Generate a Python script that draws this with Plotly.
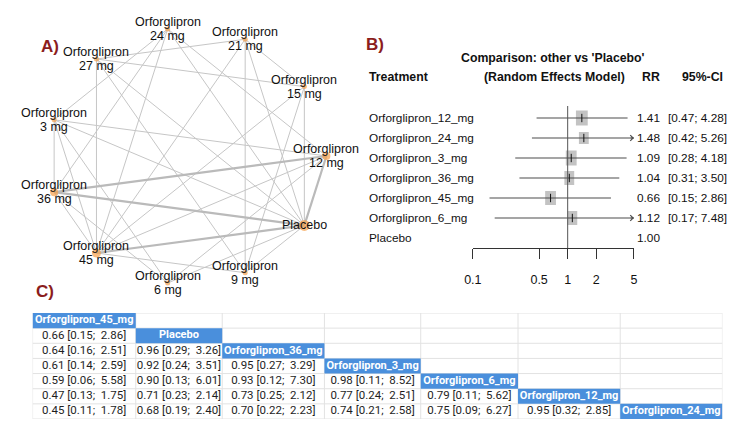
import numpy as np
import plotly.graph_objects as go

W, H = 750, 432

# ---------------- data ----------------
# A) network
net_nodes = ["Orforglipron 12 mg", "Orforglipron 15 mg", "Orforglipron 21 mg", "Orforglipron 24 mg",
             "Orforglipron 27 mg", "Orforglipron 3 mg", "Orforglipron 36 mg", "Orforglipron 45 mg",
             "Orforglipron 6 mg", "Orforglipron 9 mg", "Placebo"]
net_node_weight = [8, 5, 5, 5, 5, 5, 8, 9, 5, 5, 11]
net_edge_from = ["Orforglipron 27 mg", "Orforglipron 27 mg", "Orforglipron 27 mg", "Orforglipron 27 mg",
                 "Orforglipron 27 mg", "Orforglipron 21 mg", "Orforglipron 21 mg", "Orforglipron 21 mg",
                 "Orforglipron 21 mg", "Orforglipron 15 mg", "Orforglipron 15 mg", "Orforglipron 15 mg",
                 "Orforglipron 9 mg", "Orforglipron 9 mg", "Orforglipron 45 mg",
                 "Orforglipron 3 mg", "Orforglipron 3 mg", "Orforglipron 3 mg", "Orforglipron 3 mg",
                 "Orforglipron 3 mg", "Orforglipron 12 mg", "Orforglipron 12 mg", "Orforglipron 12 mg",
                 "Orforglipron 12 mg", "Orforglipron 24 mg", "Orforglipron 24 mg", "Orforglipron 24 mg",
                 "Orforglipron 36 mg", "Orforglipron 36 mg",
                 "Orforglipron 6 mg", "Orforglipron 6 mg", "Orforglipron 6 mg", "Orforglipron 6 mg"]
net_edge_to = ["Orforglipron 21 mg", "Orforglipron 15 mg", "Orforglipron 9 mg", "Orforglipron 45 mg",
               "Placebo", "Orforglipron 15 mg", "Orforglipron 9 mg", "Orforglipron 45 mg",
               "Placebo", "Orforglipron 9 mg", "Orforglipron 45 mg", "Placebo",
               "Orforglipron 45 mg", "Placebo", "Placebo",
               "Orforglipron 12 mg", "Orforglipron 24 mg", "Orforglipron 36 mg", "Orforglipron 45 mg",
               "Placebo", "Orforglipron 24 mg", "Orforglipron 36 mg", "Orforglipron 45 mg",
               "Placebo", "Orforglipron 36 mg", "Orforglipron 45 mg", "Placebo",
               "Orforglipron 45 mg", "Placebo",
               "Orforglipron 36 mg", "Orforglipron 12 mg", "Placebo", "Orforglipron 3 mg"]
net_edge_studies = [1, 1, 1, 1, 1, 1, 1, 1, 1, 1, 1, 1, 1, 1, 2,
                    1, 1, 1, 1, 1, 1, 2, 1, 2, 1, 1, 1, 1, 2,
                    1, 1, 1, 1]

# B) forest plot
forest_trt = ["Orforglipron_12_mg", "Orforglipron_24_mg", "Orforglipron_3_mg", "Orforglipron_36_mg",
              "Orforglipron_45_mg", "Orforglipron_6_mg", "Placebo"]
forest_rr = [1.41, 1.48, 1.09, 1.04, 0.66, 1.12, 1.00]
forest_lo = [0.47, 0.42, 0.28, 0.31, 0.15, 0.17, None]
forest_hi = [4.28, 5.26, 4.18, 3.50, 2.86, 7.48, None]
forest_ticks = [0.1, 0.5, 1, 2, 5]
forest_ticklabels = ["0.1", "0.5", "1", "2", "5"]

# C) league table
league_trt = ["Orforglipron_45_mg", "Placebo", "Orforglipron_36_mg", "Orforglipron_3_mg",
              "Orforglipron_6_mg", "Orforglipron_12_mg", "Orforglipron_24_mg"]
league_est = [[], [0.66], [0.64, 0.96], [0.61, 0.92, 0.95], [0.59, 0.90, 0.93, 0.98],
              [0.47, 0.71, 0.73, 0.77, 0.79], [0.45, 0.68, 0.70, 0.74, 0.75, 0.95]]
league_lo = [[], [0.15], [0.16, 0.29], [0.14, 0.24, 0.27], [0.06, 0.13, 0.12, 0.11],
             [0.13, 0.23, 0.25, 0.24, 0.11], [0.11, 0.19, 0.22, 0.21, 0.09, 0.32]]
league_hi = [[], [2.86], [2.51, 3.26], [2.59, 3.51, 3.29], [5.58, 6.01, 7.30, 8.52],
             [1.75, 2.14, 2.12, 2.51, 5.62], [1.78, 2.40, 2.23, 2.58, 6.27, 2.85]]

# ---------------- styles / layout constants ----------------
NODE_COL = "#f7a04a"
EDGE_COL = "#c6c6c6"
LBL_RED = "#8b1d1d"
BLUE = "#4a8fdc"
GRID = "#e2e2e2"
NARROW = "Liberation Sans, Arial, sans-serif"
SANS = "Liberation Sans, Arial, sans-serif"
TBL_FONT = "Roboto, Liberation Sans, sans-serif"
COL_W = [105, 88, 104, 98, 99, 104, 104]
FS = 11.8


def px_x(p):
    return p / W


def px_y(p):
    return 1 - p / H


fig = go.Figure()
annotations = []
shapes = []

# ---------------- A) network ----------------
n = len(net_nodes)
ang = 2 * np.pi * np.arange(n) / n
node_x = np.cos(ang)
node_y = np.sin(ang)
pos = {name: (node_x[i], node_y[i]) for i, name in enumerate(net_nodes)}

for k in sorted(set(net_edge_studies)):
    xs, ys = [], []
    for a, b, s in zip(net_edge_from, net_edge_to, net_edge_studies):
        if s == k:
            xs += [pos[a][0], pos[b][0], None]
            ys += [pos[a][1], pos[b][1], None]
    fig.add_trace(go.Scatter(x=xs, y=ys, mode="lines", xaxis="x", yaxis="y",
                             line=dict(color=EDGE_COL if k == 1 else "#bababa", width=1 if k == 1 else 2.2),
                             hoverinfo="skip", showlegend=False))

fig.add_trace(go.Scatter(x=node_x, y=node_y, mode="markers", xaxis="x", yaxis="y",
                         marker=dict(size=net_node_weight, color=NODE_COL, line=dict(width=0)),
                         hovertext=net_nodes, showlegend=False))

nfont = dict(family=SANS, size=12.5, color="#111111")
for i, name in enumerate(net_nodes):
    parts = name.split(" ", 1)
    common = dict(x=node_x[i], y=node_y[i], xref="x", yref="y", showarrow=False,
                  xanchor="center", yanchor="middle", font=nfont)
    if len(parts) == 1:
        annotations.append(dict(text=name, **common))
    else:
        annotations.append(dict(text=parts[0], yshift=7, **common))
        annotations.append(dict(text=parts[1], yshift=-7, **common))

# ---------------- B) forest ----------------
PX_PER_DEC = (636 - 472) / np.log10(50)
ROW_PX = 20
box_w = [12, 10, 11, 10, 11, 10]
box_h = [15, 12, 15, 14, 14, 14]

# vertical reference line at 1 (shapes on log axes take data values)
shapes.append(dict(type="line", xref="x2", yref="y2", x0=1, x1=1, y0=-0.6, y1=6.5,
                   line=dict(color="#555555", width=1)))

for i, (r, lo) in enumerate(zip(forest_rr, forest_lo)):
    if lo is None:
        continue
    hw = box_w[i] / 2 / PX_PER_DEC
    hh = box_h[i] / 2 / ROW_PX
    shapes.append(dict(type="rect", xref="x2", yref="y2",
                       x0=10 ** (np.log10(r) - hw), x1=10 ** (np.log10(r) + hw),
                       y0=i - hh, y1=i + hh, fillcolor="#c3c3c3", line=dict(width=0), layer="below"))

ci_x, ci_y = [], []
for i, (lo, hi) in enumerate(zip(forest_lo, forest_hi)):
    if lo is None:
        continue
    ci_x += [lo, min(hi, forest_ticks[-1]), None]
    ci_y += [i, i, None]
fig.add_trace(go.Scatter(x=ci_x, y=ci_y, mode="lines", xaxis="x2", yaxis="y2",
                         line=dict(color="#4d4d4d", width=1.1), hoverinfo="skip", showlegend=False))

est_idx = [i for i, lo in enumerate(forest_lo) if lo is not None]
fig.add_trace(go.Scatter(x=[forest_rr[i] for i in est_idx], y=est_idx, mode="markers", xaxis="x2", yaxis="y2",
                         marker=dict(symbol="line-ns", size=6, line=dict(color="#111111", width=1)),
                         hoverinfo="skip", showlegend=False))

# arrows for CIs beyond axis (annotations on log axes use log10 units)
for i, hi in enumerate(forest_hi):
    if hi is not None and hi > forest_ticks[-1]:
        annotations.append(dict(x=np.log10(forest_ticks[-1]), y=i, xref="x2", yref="y2",
                                ax=np.log10(forest_ticks[-1]) - 0.05, ay=i, axref="x2", ayref="y2",
                                text="", showarrow=True, arrowhead=4, arrowsize=1.1, arrowwidth=1,
                                arrowcolor="#4d4d4d"))

ffont = dict(family=NARROW, size=FS, color="#111111")
bfont = dict(family=NARROW, size=12.3, color="#111111", weight="bold")
for i, t in enumerate(forest_trt):
    annotations.append(dict(x=px_x(364), y=i, xref="paper", yref="y2", text=t, xanchor="left",
                            yanchor="middle", showarrow=False, font=ffont))
    annotations.append(dict(x=px_x(665), y=i, xref="paper", yref="y2", text=f"{forest_rr[i]:.2f}",
                            xanchor="right", yanchor="middle", showarrow=False, font=ffont))
    if forest_lo[i] is not None:
        annotations.append(dict(x=px_x(669), y=i, xref="paper", yref="y2",
                                text=f"[{forest_lo[i]:.2f}; {forest_hi[i]:.2f}]",
                                xanchor="left", yanchor="middle", showarrow=False, font=ffont))

annotations += [
    dict(x=px_x(554), y=px_y(58), xref="paper", yref="paper", text="Comparison: other vs 'Placebo'",
         xanchor="center", yanchor="middle", showarrow=False, font=bfont),
    dict(x=px_x(555), y=px_y(77), xref="paper", yref="paper", text="(Random Effects Model)",
         xanchor="center", yanchor="middle", showarrow=False, font=bfont),
    dict(x=px_x(364), y=px_y(77), xref="paper", yref="paper", text="Treatment", xanchor="left",
         yanchor="middle", showarrow=False, font=bfont),
    dict(x=px_x(665), y=px_y(77), xref="paper", yref="paper", text="RR", xanchor="right",
         yanchor="middle", showarrow=False, font=bfont),
    dict(x=px_x(729), y=px_y(77), xref="paper", yref="paper", text="95%-CI", xanchor="right",
         yanchor="middle", showarrow=False, font=bfont),
]

# panel labels
for lab, (lx, ly) in zip(["A)", "B)", "C)"], [(42, 46), (372, 44), (37, 291)]):
    annotations.append(dict(x=px_x(lx), y=px_y(ly), xref="paper", yref="paper", text=lab,
                            xanchor="center", yanchor="middle", showarrow=False,
                            font=dict(family=SANS, size=17, color=LBL_RED, weight="bold")))

# ---------------- C) league table ----------------
edges = np.concatenate([[0], np.cumsum(COL_W)])
centers = (edges[:-1] + edges[1:]) / 2
nrow = len(league_trt)

for r in range(nrow + 1):
    shapes.append(dict(type="line", xref="x3", yref="y3", x0=0, x1=edges[-1], y0=r, y1=r,
                       line=dict(color=GRID, width=1), layer="below"))
for c in range(nrow + 1):
    shapes.append(dict(type="line", xref="x3", yref="y3", x0=edges[c], x1=edges[c], y0=0, y1=nrow,
                       line=dict(color=GRID, width=1), layer="below"))
for d in range(nrow):
    shapes.append(dict(type="rect", xref="x3", yref="y3", x0=edges[d], x1=edges[d + 1], y0=d, y1=d + 1,
                       fillcolor=BLUE, line=dict(width=0), layer="below"))

cx, cy, ct = [], [], []
for r in range(nrow):
    for c in range(len(league_est[r])):
        cx.append(centers[c])
        cy.append(r + 0.5)
        ct.append(f"{league_est[r][c]:.2f} [{league_lo[r][c]:.2f};\u00a0 {league_hi[r][c]:.2f}]")
fig.add_trace(go.Scatter(x=cx, y=cy, text=ct, mode="text", xaxis="x3", yaxis="y3",
                         textfont=dict(family=TBL_FONT, size=11.5, color="#1e1e1e"),
                         hoverinfo="skip", showlegend=False))
fig.add_trace(go.Scatter(x=list(centers[:nrow]), y=[d + 0.5 for d in range(nrow)], text=league_trt,
                         mode="text", xaxis="x3", yaxis="y3",
                         textfont=dict(family=TBL_FONT, size=11, color="white", weight="bold"),
                         hoverinfo="skip", showlegend=False))

hidden = dict(visible=False, showgrid=False, zeroline=False, fixedrange=True)
fig.update_layout(
    width=W, height=H, margin=dict(l=0, r=0, t=0, b=0),
    paper_bgcolor="white", plot_bgcolor="rgba(0,0,0,0)",
    showlegend=False,
    xaxis=dict(domain=[px_x(4.85), px_x(358.35)], range=[-1.25, 1.25], anchor="y", **hidden),
    yaxis=dict(domain=[px_y(310), px_y(2)], range=[-1.2, 1.2], anchor="x", **hidden),
    xaxis2=dict(domain=[px_x(472), px_x(636)], type="log", range=[-1, np.log10(5)], anchor="y2",
                tickvals=forest_ticks, ticktext=forest_ticklabels, ticks="outside", ticklen=10,
                tickcolor="#333333", showline=True, linecolor="#333333", linewidth=1,
                showgrid=False, zeroline=False, fixedrange=True, ticklabelstandoff=10,
                tickfont=dict(family=NARROW, size=12.5, color="#111111")),
    yaxis2=dict(domain=[px_y(248), px_y(106)], range=[6.5, -0.6], anchor="x2", **hidden),
    xaxis3=dict(domain=[px_x(24), px_x(726)], range=[0, edges[-1]], anchor="y3", **hidden),
    yaxis3=dict(domain=[px_y(419), px_y(313)], range=[nrow, 0], anchor="x3", **hidden),
    annotations=annotations,
    shapes=shapes,
)

fig.write_html("out.html")
